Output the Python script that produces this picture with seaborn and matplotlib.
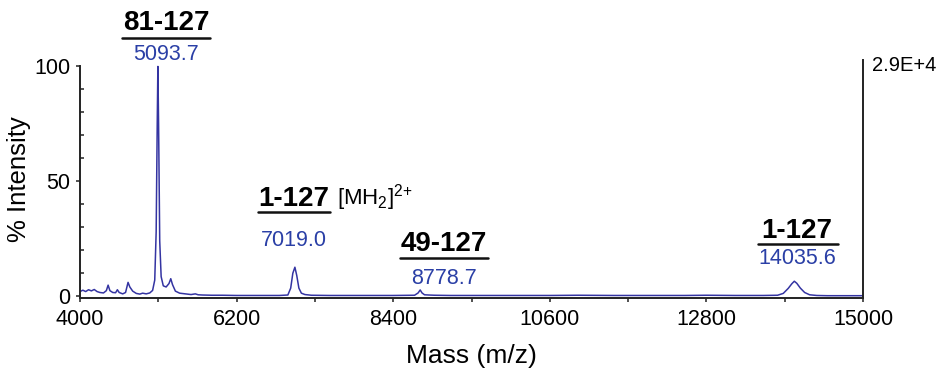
import numpy as np
import pandas as pd
import matplotlib
matplotlib.use("Agg")
import matplotlib.pyplot as plt
import seaborn as sns

# Spectrum trace (mass, % intensity)
mass = [4000, 4040, 4080, 4120, 4160, 4200, 4240, 4280, 4330, 4370, 4395, 4420, 4460,
        4500, 4525, 4550, 4600, 4640, 4675, 4700, 4740, 4790, 4840, 4880, 4930, 4980,
        5020, 5050, 5070, 5085, 5094, 5104, 5120, 5140, 5170, 5210, 5250, 5275, 5300,
        5340, 5400, 5480, 5560, 5620, 5660, 5720, 5850, 6000, 6200, 6500, 6800, 6920,
        6960, 6990, 7019, 7045, 7075, 7110, 7160, 7250, 7500, 8000, 8400, 8700, 8750,
        8779, 8805, 8840, 8900, 8980, 9200, 9600, 10000, 10600, 11000, 11500, 12000,
        12500, 12800, 13200, 13600, 13800, 13880, 13950, 14000, 14035, 14070, 14120,
        14180, 14250, 14350, 14500, 14800, 15000]
intensity = [2.0, 2.6, 2.0, 2.8, 2.3, 2.9, 2.0, 1.6, 1.4, 2.4, 4.8, 2.4, 1.6,
             1.5, 2.8, 1.6, 1.0, 1.6, 6.0, 4.0, 2.2, 1.2, 0.9, 1.3, 1.0, 1.4,
             2.5, 7.0, 28.0, 75.0, 100.0, 75.0, 24.0, 8.5, 4.5, 4.0, 5.5, 7.6, 5.0,
             2.2, 1.3, 1.0, 0.7, 1.0, 0.6, 0.5, 0.4, 0.4, 0.3, 0.3, 0.3, 0.5,
             3.5, 10.0, 12.6, 9.0, 3.5, 1.3, 0.7, 0.4, 0.3, 0.3, 0.3, 0.4, 1.4,
             2.7, 1.4, 0.6, 0.5, 0.4, 0.3, 0.3, 0.3, 0.3, 0.4, 0.3, 0.3,
             0.3, 0.4, 0.3, 0.3, 0.4, 1.2, 3.4, 5.4, 6.5, 5.6, 3.5,
             1.6, 0.6, 0.3, 0.2, 0.2, 0.2]

# Annotations
fragments = ["81-127", "1-127", "49-127", "1-127"]
peak_masses = ["5093.7", "7019.0", "8778.7", "14035.6"]

df = pd.DataFrame({"Mass (m/z)": mass, "% Intensity": intensity})

sns.set_style("ticks")
plt.rcParams["font.family"] = ["Liberation Sans", "DejaVu Sans"]
plt.rcParams["mathtext.fontset"] = "custom"
plt.rcParams["mathtext.rm"] = "Liberation Sans"
plt.rcParams["text.color"] = "black"
plt.rcParams["axes.labelcolor"] = "black"
plt.rcParams["xtick.color"] = "black"
plt.rcParams["ytick.color"] = "black"

fig = plt.figure(figsize=(9.46, 3.70), dpi=100)
ax = fig.add_axes([80 / 946, 1 - 298 / 370, (863 - 80) / 946, (298 - 60) / 370])

line_c = "#3434a2"
lab_c = "#2a3fa6"
sns.lineplot(data=df, x="Mass (m/z)", y="% Intensity", ax=ax, color=line_c, lw=1.1)

Y0 = -0.8
YTOP = 102.8
ax.set_xlim(4000, 15000)
ax.set_ylim(Y0, YTOP)
ax.set_xticks(np.arange(4000, 15001, 2200))
ax.set_xticks(np.arange(5100, 15000, 2200), minor=True)
ax.set_yticks([0, 50, 100])
ax.set_yticks(np.arange(10, 100, 10), minor=True)
ax.tick_params(axis="both", which="both", labelsize=15.5, color="#222222", width=1.1)
ax.tick_params(axis="x", which="both", direction="out", length=3, pad=5)
ax.tick_params(axis="y", which="major", direction="out", length=3, pad=4)
ax.tick_params(axis="y", which="minor", direction="in", length=3)
ax.set_xlabel("Mass (m/z)", fontsize=19, labelpad=10)
ax.set_ylabel("% Intensity", fontsize=18.5, labelpad=2)

for s in ["left", "right", "bottom"]:
    ax.spines[s].set_visible(True)
    ax.spines[s].set_linewidth(1.4)
    ax.spines[s].set_color("#222222")
ax.spines["top"].set_visible(False)
ax.spines["left"].set_bounds(Y0, 100)

ax.text(1.012, 0.975, "2.9E+4", transform=ax.transAxes, fontsize=14.5,
        ha="left", va="center")

def ytxt(py):
    return Y0 + (298 - py) / 238 * (YTOP - Y0)

def xtxt(px):
    return 4000 + (px - 80) / 783 * 11000

# label layout: (center x px, fragment y px, underline y px, underline x0,x1, mass y px)
layout = [
    (166, 23, 38, 122, 210, 55),
    (294, 199, 212, 258, 330, 240),
    (444, 244, 258, 400, 488, 279),
    (797, 231, 244, 758, 838, 259),
]
for frag, pm, (cx, fy, uy, u0, u1, my) in zip(fragments, peak_masses, layout):
    ax.text(xtxt(cx), ytxt(fy), frag, fontsize=20, fontweight="bold",
            ha="center", va="center", clip_on=False)
    ax.plot([xtxt(u0), xtxt(u1)], [ytxt(uy), ytxt(uy)], color="#111111",
            lw=1.8, clip_on=False)
    ax.text(xtxt(cx), ytxt(my), pm, fontsize=15.5, color=lab_c,
            ha="center", va="center", clip_on=False)

ax.text(xtxt(337), ytxt(198), r"[MH$_2$]$^{2{+}}$", fontsize=16, ha="left",
        va="center", clip_on=False)

fig.savefig("out.png", dpi=100)
